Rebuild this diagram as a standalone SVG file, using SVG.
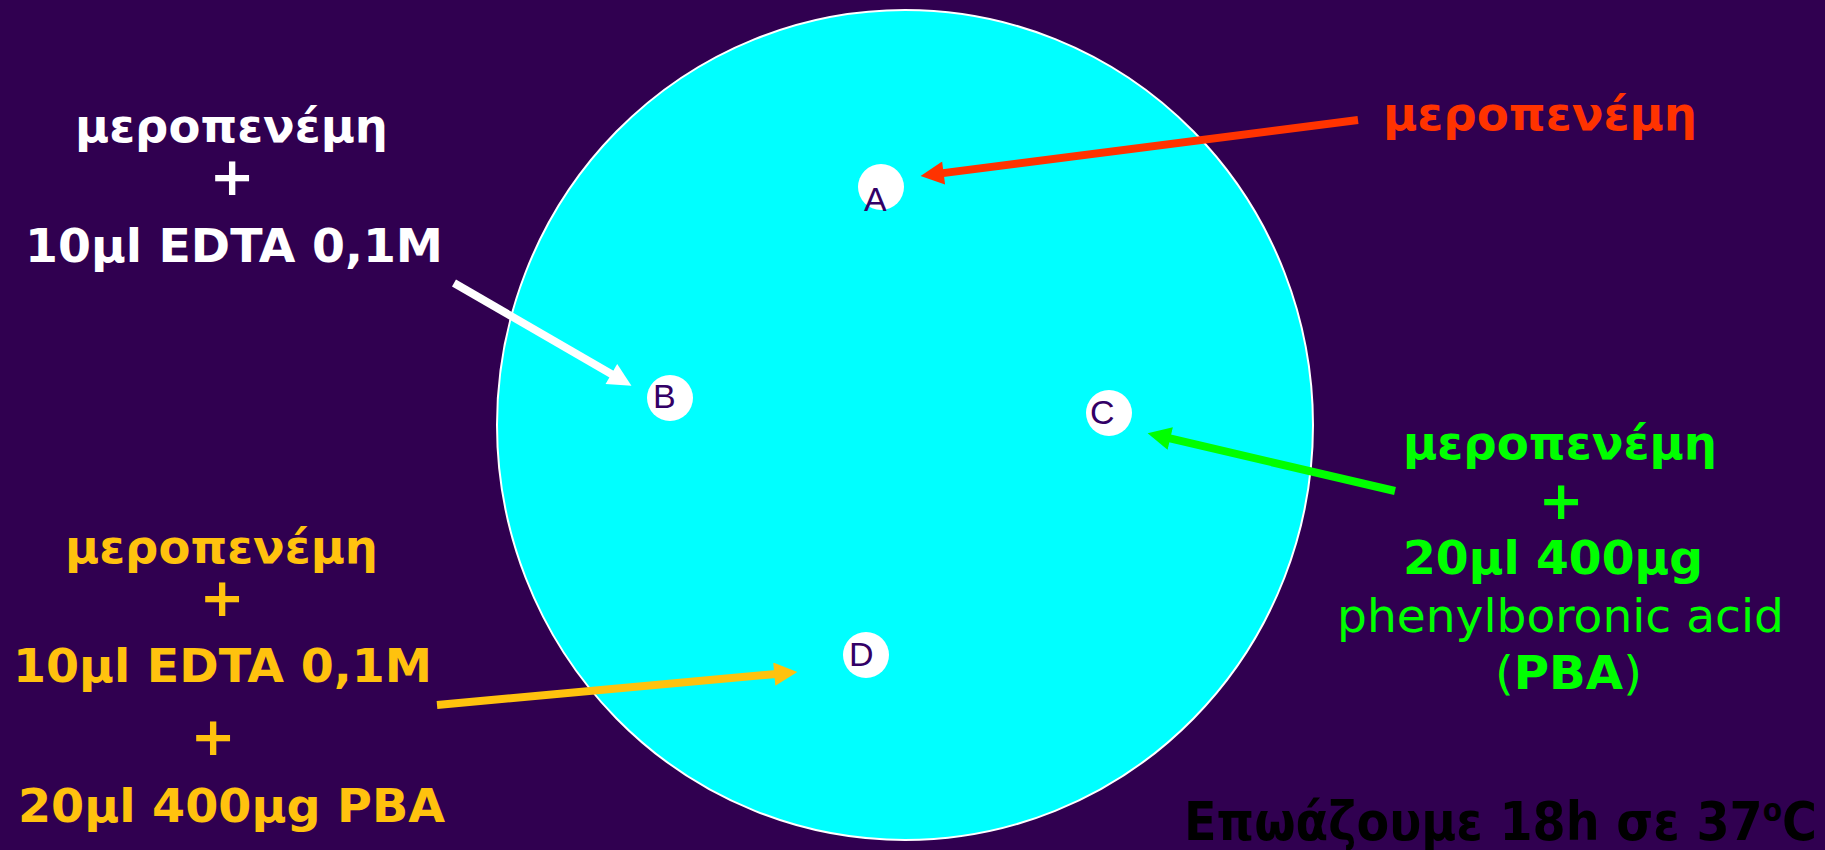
<svg xmlns="http://www.w3.org/2000/svg" width="1825" height="850" viewBox="0 0 1825 850">
<style>
.b{font-family:"DejaVu Sans","Verdana","Liberation Sans",sans-serif;font-weight:bold;font-size:47px}
.p{font-family:"DejaVu Sans","Verdana","Liberation Sans",sans-serif;font-weight:bold;font-size:54px;text-anchor:middle}
.n{font-family:"DejaVu Sans","Verdana","Liberation Sans",sans-serif;font-weight:normal;font-size:47px}
.well{fill:#ffffff}
.lbl{font-family:"Liberation Sans",Arial,sans-serif;font-size:34px;fill:#330066}
.w{fill:#ffffff}.r{fill:#ff3300}.g{fill:#00ff00}.y{fill:#ffc20e}
</style>
<defs>
<marker id="mr" viewBox="0 0 10 10" refX="2" refY="5" markerWidth="3" markerHeight="2.9" orient="auto" markerUnits="strokeWidth"><path d="M0,0L10,5L0,10z" fill="#ff3300"/></marker>
<marker id="mw" viewBox="0 0 10 10" refX="2" refY="5" markerWidth="3" markerHeight="2.9" orient="auto" markerUnits="strokeWidth"><path d="M0,0L10,5L0,10z" fill="#ffffff"/></marker>
<marker id="mg" viewBox="0 0 10 10" refX="2" refY="5" markerWidth="3" markerHeight="2.9" orient="auto" markerUnits="strokeWidth"><path d="M0,0L10,5L0,10z" fill="#00ff00"/></marker>
<marker id="my" viewBox="0 0 10 10" refX="2" refY="5" markerWidth="3" markerHeight="2.9" orient="auto" markerUnits="strokeWidth"><path d="M0,0L10,5L0,10z" fill="#ffc20e"/></marker>
</defs>
<rect width="1825" height="850" fill="#300050"/>
<g id="plate"><ellipse cx="905" cy="425" rx="408" ry="415" fill="#00ffff" stroke="#ffffff" stroke-width="2"/></g>
<g id="wellA"><circle class="well" cx="881" cy="187" r="23"/><text class="lbl" x="864" y="211">A</text></g>
<g id="wellB"><circle class="well" cx="670" cy="398" r="23"/><text class="lbl" x="653" y="408">B</text></g>
<g id="wellC"><circle class="well" cx="1109" cy="413" r="23"/><text class="lbl" x="1090" y="424">C</text></g>
<g id="wellD"><circle class="well" cx="866" cy="655" r="23"/><text class="lbl" x="849" y="666">D</text></g>
<g id="connectors" fill="none" stroke-width="8">
<line x1="1358" y1="120" x2="939" y2="173.6" stroke="#ff3300" marker-end="url(#mr)"/>
<line x1="454" y1="283" x2="615.4" y2="376.4" stroke="#ffffff" marker-end="url(#mw)"/>
<line x1="1395" y1="491" x2="1165.7" y2="437.4" stroke="#00ff00" marker-end="url(#mg)"/>
<line x1="437" y1="705" x2="778.9" y2="673.7" stroke="#ffc20e" marker-end="url(#my)"/>
</g>
<g id="labelWhite" class="w">
<text class="b" x="75" y="142" textLength="313" lengthAdjust="spacingAndGlyphs">μεροπενέμη</text>
<text class="p" x="232" y="195">+</text>
<text class="b" x="25" y="262" textLength="418" lengthAdjust="spacingAndGlyphs">10μl EDTA 0,1M</text>
</g>
<g id="labelRed" class="r">
<text class="b" x="1383" y="130" textLength="314" lengthAdjust="spacingAndGlyphs">μεροπενέμη</text>
</g>
<g id="labelGreen" class="g">
<text class="b" x="1403" y="459" textLength="314" lengthAdjust="spacingAndGlyphs">μεροπενέμη</text>
<text class="p" x="1561" y="519">+</text>
<text class="b" x="1403" y="574" textLength="300" lengthAdjust="spacingAndGlyphs">20μl 400μg</text>
<text class="n" x="1337" y="632" textLength="447" lengthAdjust="spacingAndGlyphs">phenylboronic acid</text>
<text class="n" x="1495" y="689" textLength="147" lengthAdjust="spacingAndGlyphs">(<tspan font-weight="bold">PBA</tspan>)</text>
</g>
<g id="labelYellow" class="y">
<text class="b" x="65" y="563" textLength="313" lengthAdjust="spacingAndGlyphs">μεροπενέμη</text>
<text class="p" x="222" y="616">+</text>
<text class="b" x="13" y="682" textLength="419" lengthAdjust="spacingAndGlyphs">10μl EDTA 0,1M</text>
<text class="p" x="213" y="755">+</text>
<text class="b" x="18" y="822" textLength="427" lengthAdjust="spacingAndGlyphs">20μl 400μg PBA</text>
</g>
<g id="footer">
<text x="1184" y="840" textLength="633" lengthAdjust="spacingAndGlyphs" font-family="'DejaVu Sans','Liberation Sans',sans-serif" font-weight="bold" font-size="54" fill="#000000">Επωάζουμε 18h σε 37<tspan font-size="32" baseline-shift="60%">o</tspan>C</text>
</g>
</svg>
